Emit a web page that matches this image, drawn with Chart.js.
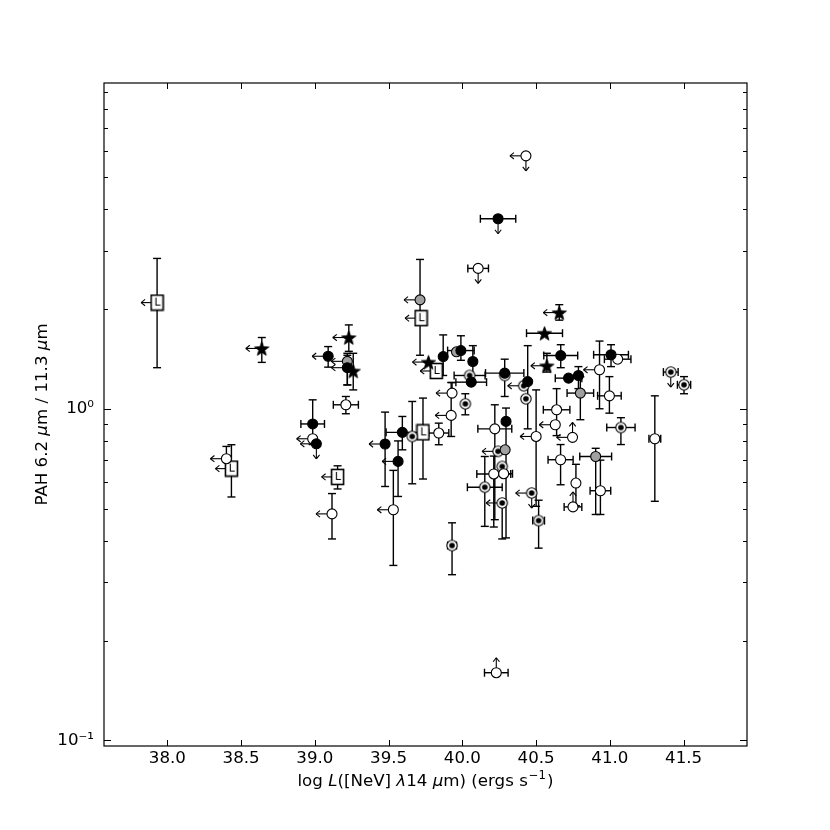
<!DOCTYPE html>
<html><head><meta charset="utf-8">
<script src="https://cdn.jsdelivr.net/npm/chart.js@4"></script>
<style>html,body{margin:0;padding:0;background:#fff}</style>
</head><body>
<canvas id="c" width="830" height="830"></canvas>
<script>
// Tick values
const xTicks = [38.0, 38.5, 39.0, 39.5, 40.0, 40.5, 41.0, 41.5];
const yMajorTicks = [0.1, 1];
const yMinorTicks = [0.2,0.3,0.4,0.5,0.6,0.7,0.8,0.9,2,3,4,5,6,7,8,9];

// Axis titles as text segments: [text, style] (n = normal, i = italic, s = superscript)
const xTitleParts = [['log ', 'n'], ['L', 'i'], ['([NeV] ', 'n'], ['λ', 'i'], ['14 ', 'n'], ['μ', 'i'], ['m) (ergs s', 'n'], ['−1', 's'], [')', 'n']];
const yTitleParts = [['PAH 6.2 ', 'n'], ['μ', 'i'], ['m / 11.3 ', 'n'], ['μ', 'i'], ['m', 'n']];

// Rows: [x, y, xErr, yLow, yHigh, leftArrow(upper limit in x), yLimit('d' down / 'u' up)]
const filledPts = [
  [39.09, 1.44, null, 1.335, 1.54, 1, null],
  [39.22, 1.33, null, 1.18, 1.45, 1, null],
  [38.985, 0.90, 0.08, 0.78, 1.064, 0, null],
  [39.01, 0.784, null, null, null, 1, 'd'],
  [39.476, 0.783, null, 0.583, 0.977, 1, null],
  [39.593, 0.849, 0.11, 0.752, 0.948, 0, null],
  [39.564, 0.694, null, 0.544, 0.80, 1, null],
  [40.242, 3.74, 0.12, null, null, 0, 'd'],
  [39.87, 1.437, null, 1.26, 1.67, 0, null],
  [39.99, 1.498, 0.09, 1.40, 1.66, 0, null],
  [40.071, 1.388, null, 1.20, 1.55, 0, null],
  [40.06, 1.203, 0.104, null, null, 0, null],
  [40.287, 1.281, 0.13, 1.089, 1.411, 0, null],
  [40.443, 1.208, null, 0.87, 1.55, 0, null],
  [40.296, 0.916, null, 0.408, 1.005, 0, null],
  [40.667, 1.447, 0.115, 1.33, 1.56, 0, null],
  [40.72, 1.237, 0.09, null, null, 0, null],
  [40.787, 1.26, null, 1.15, 1.34, 0, null],
  [41.008, 1.455, 0.118, 1.34, 1.56, 0, null]
];
const openPts = [
  [39.21, 1.028, 0.085, 0.966, 1.089, 0, null],
  [38.985, 0.812, null, null, null, 1, null],
  [38.40, 0.707, null, null, 0.77, 1, null],
  [39.116, 0.482, null, 0.405, 0.555, 1, null],
  [39.84, 0.845, 0.068, 0.779, 0.905, 0, null],
  [39.532, 0.496, null, 0.337, 0.652, 1, null],
  [40.107, 2.65, 0.07, null, null, 0, 'd'],
  [40.431, 5.79, null, null, null, 1, 'd'],
  [40.50, 0.825, null, 0.508, 1.14, 1, null],
  [39.93, 1.115, null, null, 1.20, 1, null],
  [39.924, 0.955, null, 0.825, 1.20, 1, null],
  [40.22, 0.87, 0.115, 0.463, 1.028, 0, null],
  [40.213, 0.636, 0.115, 0.44, 0.72, 0, null],
  [40.28, 0.637, 0.06, null, null, 0, null],
  [40.93, 1.311, null, 1.0, 1.60, 1, null],
  [41.053, 1.411, 0.09, null, null, 0, null],
  [40.997, 1.094, 0.08, 0.97, 1.25, 0, null],
  [41.305, 0.812, 0.04, 0.526, 1.094, 0, null],
  [40.936, 0.566, 0.07, 0.48, 0.70, 0, null],
  [40.747, 0.82, null, null, null, 1, 'u'],
  [40.63, 0.895, null, null, null, 1, null],
  [40.639, 0.993, 0.09, 0.83, 1.15, 0, null],
  [40.666, 0.702, 0.085, 0.59, 0.78, 0, null],
  [40.77, 0.597, null, 0.51, 0.68, 0, null],
  [40.75, 0.506, 0.06, null, null, 0, 'u'],
  [40.23, 0.16, 0.08, null, null, 0, 'u']
];
const grayPts = [
  [39.22, 1.39, null, 1.18, 1.47, 1, null],
  [39.713, 2.13, null, 1.45, 2.82, 1, null],
  [39.96, 1.485, null, null, null, 0, null],
  [40.29, 0.752, null, null, null, 0, null],
  [40.80, 1.115, 0.09, 0.927, 1.25, 0, null],
  [40.904, 0.718, 0.108, 0.48, 0.76, 0, null]
];
const dottedPts = [
  [39.66, 0.825, null, 0.594, 1.052, 0, null],
  [39.93, 0.387, 0.03, 0.316, 0.453, 0, null],
  [40.049, 1.26, 0.105, null, null, 0, null],
  [40.287, 1.26, null, null, null, 0, null],
  [40.416, 1.173, null, null, null, 1, null],
  [40.431, 1.072, null, null, null, 0, null],
  [40.47, 0.557, null, null, null, 1, 'd'],
  [40.517, 0.46, 0.04, 0.38, 0.53, 0, null],
  [40.02, 1.035, null, 0.959, 1.11, 0, null],
  [40.242, 0.744, null, null, null, 1, null],
  [40.27, 0.67, null, null, null, 0, null],
  [40.152, 0.58, 0.118, 0.442, 0.718, 0, null],
  [40.27, 0.52, null, 0.405, null, 1, null],
  [41.075, 0.878, 0.096, 0.78, 0.94, 0, null],
  [41.413, 1.29, 0.05, null, null, 0, 'd'],
  [41.503, 1.181, 0.045, 1.11, 1.25, 0, null]
];
const starPts = [
  [38.64, 1.52, null, 1.38, 1.64, 1, null],
  [39.23, 1.64, null, 1.49, 1.79, 1, null],
  [39.26, 1.30, null, 1.14, 1.47, 0, null],
  [39.77, 1.383, null, null, null, 1, null],
  [40.657, 1.95, null, 1.85, 2.06, 1, null],
  [40.557, 1.69, 0.122, null, null, 0, null],
  [40.573, 1.348, null, 1.29, 1.47, 1, null]
];
const boxLPts = [
  [37.93, 2.09, null, 1.33, 2.84, 1, null],
  [38.434, 0.66, null, 0.542, 0.779, 1, null],
  [39.154, 0.623, null, 0.573, 0.673, 1, null],
  [39.733, 0.849, null, 0.614, 1.077, 0, null],
  [39.72, 1.876, null, null, null, 1, null],
  [39.823, 1.30, null, null, null, 1, null]
];

const FONT = 'DejaVu Sans';
const FS = 16.67;

function starCanvas(r) {
  const s = Math.ceil(2 * r + 4), c = document.createElement('canvas');
  c.width = c.height = s;
  const g = c.getContext('2d');
  g.translate(s / 2, s / 2 + 0.8);
  g.beginPath();
  for (let i = 0; i < 10; i++) {
    const rr = i % 2 ? r * 0.42 : r, a = -Math.PI / 2 + i * Math.PI / 5;
    g.lineTo(rr * Math.cos(a), rr * Math.sin(a));
  }
  g.closePath(); g.fillStyle = '#000'; g.fill();
  g.lineWidth = 0.8; g.strokeStyle = '#000'; g.stroke();
  return c;
}
function dotCanvas() {
  const c = document.createElement('canvas'); c.width = c.height = 14;
  const g = c.getContext('2d');
  g.beginPath(); g.arc(7, 7, 5.2, 0, 2 * Math.PI);
  g.fillStyle = '#fff'; g.fill(); g.lineWidth = 1.1; g.strokeStyle = '#000'; g.stroke();
  g.beginPath(); g.arc(7, 7, 2.8, 0, 2 * Math.PI); g.fillStyle = '#000'; g.fill();
  return c;
}
function boxLCanvas() {
  const c = document.createElement('canvas'); c.width = 15; c.height = 18;
  const g = c.getContext('2d');
  g.fillStyle = '#fff'; g.fillRect(1.5, 1.5, 12, 15);
  g.lineWidth = 1.6; g.strokeStyle = '#000'; g.strokeRect(1.5, 1.5, 12, 15);
  g.fillStyle = '#000'; g.font = '11px "' + FONT + '"';
  g.textAlign = 'center'; g.textBaseline = 'middle'; g.fillText('L', 7.8, 9.5);
  return c;
}

function rowsToData(rows) {
  return rows.map(r => ({x: r[0], y: r[1], xe: r[2], ylo: r[3], yhi: r[4], xl: r[5], yl: r[6]}));
}

const errorBars = {
  id: 'errorBars',
  beforeDatasetsDraw(chart) {
    const {ctx, scales: {x, y}} = chart;
    ctx.save();
    ctx.strokeStyle = '#000'; ctx.lineWidth = 1.4; ctx.lineCap = 'butt';
    const seg = (a, b, c, d) => { ctx.beginPath(); ctx.moveTo(a, b); ctx.lineTo(c, d); ctx.stroke(); };
    const cap = 4, AL = 16, AH = 4;
    chart.data.datasets.forEach(ds => {
      ds.data.forEach(p => {
        const px = x.getPixelForValue(p.x), py = y.getPixelForValue(p.y);
        if (p.xe != null) {
          const a = x.getPixelForValue(p.x - p.xe), b = x.getPixelForValue(p.x + p.xe);
          seg(a, py, b, py); seg(a, py - cap, a, py + cap); seg(b, py - cap, b, py + cap);
        }
        if (p.ylo != null) { const q = y.getPixelForValue(p.ylo); seg(px, py, px, q); seg(px - cap, q, px + cap, q); }
        if (p.yhi != null) { const q = y.getPixelForValue(p.yhi); seg(px, py, px, q); seg(px - cap, q, px + cap, q); }
        ctx.lineWidth = 1.1;
        if (p.xl) {
          const t = px - AL; seg(px, py, t, py);
          seg(t, py, t + AH, py - AH * 0.8); seg(t, py, t + AH, py + AH * 0.8);
        }
        if (p.yl === 'd') {
          const t = py + AL - 1; seg(px, py, px, t);
          seg(px, t, px - AH * 0.8, t - AH); seg(px, t, px + AH * 0.8, t - AH);
        } else if (p.yl === 'u') {
          const t = py - AL + 1; seg(px, py, px, t);
          seg(px, t, px - AH * 0.8, t + AH); seg(px, t, px + AH * 0.8, t + AH);
        }
        ctx.lineWidth = 1.4;
      });
    });
    ctx.restore();
  }
};

function partFont(st) {
  if (st === 'i') return 'italic ' + FS + 'px "' + FONT + '"';
  if (st === 's') return (FS * 0.7).toFixed(2) + 'px "' + FONT + '"';
  return FS + 'px "' + FONT + '"';
}
function drawParts(ctx, parts, cx, cy) {
  let total = 0;
  parts.forEach(p => { ctx.font = partFont(p[1]); total += ctx.measureText(p[0]).width + (p[1] === 's' ? 2 : 0); });
  let xx = cx - total / 2;
  ctx.textAlign = 'left'; ctx.textBaseline = 'middle'; ctx.fillStyle = '#000';
  parts.forEach(p => {
    ctx.font = partFont(p[1]);
    const dy = p[1] === 's' ? -5.5 : 0;
    if (p[1] === 's') xx += 1;
    ctx.fillText(p[0], xx, cy + dy);
    xx += ctx.measureText(p[0]).width + (p[1] === 's' ? 1 : 0);
  });
}

const frameTicks = {
  id: 'frameTicks',
  afterDraw(chart) {
    const {ctx, chartArea: a, scales: {x, y}} = chart;
    ctx.save();
    ctx.strokeStyle = '#000'; ctx.lineWidth = 1.2;
    ctx.strokeRect(a.left, a.top, a.right - a.left, a.bottom - a.top);
    const seg = (p, q, r, s) => { ctx.beginPath(); ctx.moveTo(p, q); ctx.lineTo(r, s); ctx.stroke(); };
    ctx.lineWidth = 1;
    xTicks.forEach(v => {
      const p = Math.round(x.getPixelForValue(v)) + 0.5;
      seg(p, a.bottom, p, a.bottom - 6); seg(p, a.top, p, a.top + 6);
    });
    yMajorTicks.forEach(v => {
      const q = Math.round(y.getPixelForValue(v)) + 0.5;
      seg(a.left, q, a.left + 7, q); seg(a.right, q, a.right - 7, q);
    });
    yMinorTicks.forEach(v => {
      const q = Math.round(y.getPixelForValue(v)) + 0.5;
      seg(a.left, q, a.left + 4, q); seg(a.right, q, a.right - 4, q);
    });
    // axis titles
    drawParts(ctx, xTitleParts, (a.left + a.right) / 2, 781.5);
    ctx.save();
    ctx.translate(42.5, (a.top + a.bottom) / 2);
    ctx.rotate(-Math.PI / 2);
    drawParts(ctx, yTitleParts, 0, 0);
    ctx.restore();
    ctx.restore();
  }
};

const common = {pointRadius: 5, pointHoverRadius: 5, borderWidth: 1.1, borderColor: '#000'};
new Chart(document.getElementById('c'), {
  type: 'scatter',
  data: {
    datasets: [
      Object.assign({label: 'filled', data: rowsToData(filledPts), pointStyle: 'circle', backgroundColor: '#000'}, common),
      Object.assign({label: 'open', data: rowsToData(openPts), pointStyle: 'circle', backgroundColor: '#fff'}, common),
      Object.assign({label: 'gray', data: rowsToData(grayPts), pointStyle: 'circle', backgroundColor: '#a0a0a0'}, common),
      Object.assign({label: 'dotted', data: rowsToData(dottedPts), pointStyle: dotCanvas()}, common),
      Object.assign({label: 'star', data: rowsToData(starPts), pointStyle: starCanvas(7.5)}, common),
      Object.assign({label: 'L', data: rowsToData(boxLPts), pointStyle: boxLCanvas()}, common)
    ]
  },
  options: {
    responsive: false, animation: false, events: [],
    layout: {padding: {left: 0, top: 83, right: 83, bottom: 0}},
    plugins: {legend: {display: false}, tooltip: {enabled: false}},
    scales: {
      x: {
        type: 'linear', min: 37.57, max: 41.93,
        grid: {display: false, drawTicks: false}, border: {display: false},
        afterBuildTicks: s => { s.ticks = xTicks.map(v => ({value: v})); },
        afterFit: s => { s.height = 84; },
        ticks: {autoSkip: false, maxRotation: 0, padding: 3, color: '#000',
                font: {family: FONT, size: FS}, callback: v => Number(v).toFixed(1)},
        title: {display: false}
      },
      y: {
        type: 'logarithmic', min: 0.0962, max: 9.6,
        grid: {display: false, drawTicks: false}, border: {display: false},
        afterBuildTicks: s => { s.ticks = yMajorTicks.map(v => ({value: v})); },
        afterFit: s => { s.width = 104; },
        ticks: {autoSkip: false, padding: 10, color: '#000', font: {family: FONT, size: FS},
                callback: v => (Math.abs(v - 1) < 1e-9 ? '10⁰' : (Math.abs(v - 0.1) < 1e-9 ? '10⁻¹' : ''))},
        title: {display: false}
      }
    }
  },
  plugins: [errorBars, frameTicks]
});
</script>
</body></html>
